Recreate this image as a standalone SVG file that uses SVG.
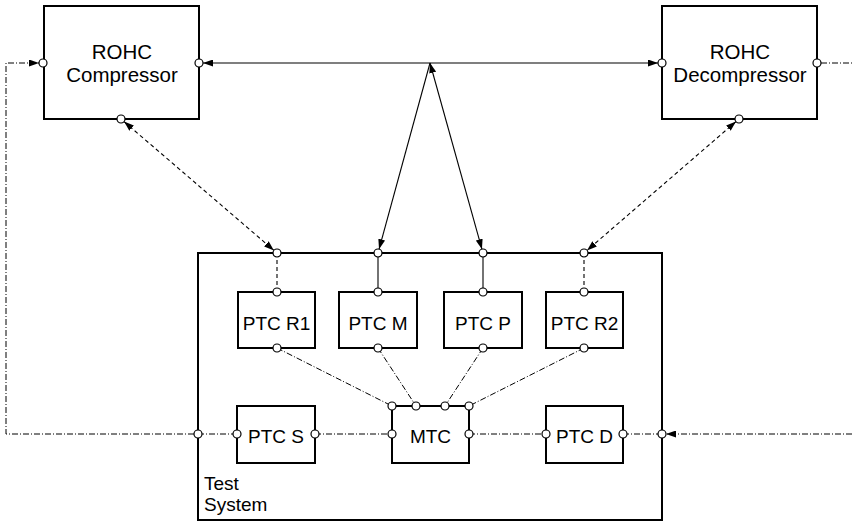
<svg xmlns="http://www.w3.org/2000/svg" width="852" height="523" viewBox="0 0 852 523">
<style>
.box{fill:none;stroke:#000;stroke-width:2}
.port{fill:#fff;stroke:#000;stroke-width:1.2}
.ln{fill:none;stroke:#000;stroke-width:1.1}
.dash{fill:none;stroke:#000;stroke-width:1.1;stroke-dasharray:4 3}
.dd{fill:none;stroke:#000;stroke-width:1;stroke-dasharray:6 2 1 2}
text{font-family:"Liberation Sans",Arial,sans-serif;font-size:19px;fill:#000}
.big{font-size:20.5px}
.c{text-anchor:middle}
</style>
<defs>
<marker id="arr" viewBox="0 0 10 7" refX="10" refY="3.5" markerWidth="10" markerHeight="7" markerUnits="userSpaceOnUse" orient="auto-start-reverse">
<path d="M0,0 L10,3.5 L0,7 z" fill="#000"/>
</marker>
</defs>
<g id="connectors">
<line class="ln" x1="203" y1="63" x2="658" y2="63" marker-start="url(#arr)" marker-end="url(#arr)"/>
<line class="ln" x1="430" y1="63" x2="379.06" y2="249.14" marker-end="url(#arr)"/>
<line class="ln" x1="430" y1="63" x2="481.93" y2="249.15" marker-start="url(#arr)" marker-end="url(#arr)"/>
<line class="dash" x1="124.03" y1="121.61" x2="273.97" y2="250.39" marker-start="url(#arr)" marker-end="url(#arr)"/>
<line class="dash" x1="735.97" y1="121.62" x2="587.03" y2="250.38" marker-start="url(#arr)" marker-end="url(#arr)"/>
<line class="dash" x1="277" y1="253" x2="277" y2="292"/>
<line class="dash" x1="584" y1="253" x2="584" y2="292"/>
<line class="ln" x1="378" y1="253" x2="378" y2="292"/>
<line class="ln" x1="483" y1="253" x2="483" y2="292"/>
<path class="dd" d="M194,434 H6 V63 H39" marker-end="url(#arr)"/>
<line class="dd" x1="852" y1="434" x2="666" y2="434" marker-end="url(#arr)"/>
<line class="dd" x1="821" y1="63" x2="852" y2="63"/>
<line class="dd" x1="198" y1="434" x2="237" y2="434"/>
<line class="dd" x1="315" y1="434" x2="392" y2="434"/>
<line class="dd" x1="469" y1="434" x2="546" y2="434"/>
<line class="dd" x1="623" y1="434" x2="662" y2="434"/>
<line class="dd" x1="277" y1="348" x2="392" y2="406"/>
<line class="dd" x1="378" y1="348" x2="416" y2="406"/>
<line class="dd" x1="483" y1="348" x2="445" y2="406"/>
<line class="dd" x1="584" y1="348" x2="469" y2="406"/>
</g>
<g id="compressor">
<rect class="box" x="44" y="6" width="155" height="113"/>
<text class="c big" x="122" y="59">ROHC</text>
<text class="c big" x="122" y="82">Compressor</text>
<circle class="port" cx="43" cy="63" r="4"/>
<circle class="port" cx="199" cy="63" r="4"/>
<circle class="port" cx="121" cy="119" r="4"/>
</g>
<g id="decompressor">
<rect class="box" x="662" y="6" width="155" height="113"/>
<text class="c big" x="740" y="59">ROHC</text>
<text class="c big" x="740" y="82">Decompressor</text>
<circle class="port" cx="662" cy="63" r="4"/>
<circle class="port" cx="817" cy="63" r="4"/>
<circle class="port" cx="739" cy="119" r="4"/>
</g>
<g id="test-system">
<rect class="box" x="198" y="253" width="464" height="267"/>
<text x="204" y="490">Test</text>
<text x="204" y="511">System</text>
<circle class="port" cx="277" cy="253" r="4"/>
<circle class="port" cx="378" cy="253" r="4"/>
<circle class="port" cx="483" cy="253" r="4"/>
<circle class="port" cx="584" cy="253" r="4"/>
<circle class="port" cx="198" cy="434" r="4"/>
<circle class="port" cx="662" cy="434" r="4"/>
</g>
<g id="ptc-r1">
<rect class="box" x="238" y="292" width="77" height="56"/>
<text class="c" x="276.5" y="330">PTC R1</text>
<circle class="port" cx="277" cy="292" r="4"/>
<circle class="port" cx="277" cy="348" r="4"/>
</g>
<g id="ptc-m">
<rect class="box" x="339" y="292" width="78" height="56"/>
<text class="c" x="378" y="330">PTC M</text>
<circle class="port" cx="378" cy="292" r="4"/>
<circle class="port" cx="378" cy="348" r="4"/>
</g>
<g id="ptc-p">
<rect class="box" x="444" y="292" width="78" height="56"/>
<text class="c" x="483" y="330">PTC P</text>
<circle class="port" cx="483" cy="292" r="4"/>
<circle class="port" cx="483" cy="348" r="4"/>
</g>
<g id="ptc-r2">
<rect class="box" x="546" y="292" width="77" height="56"/>
<text class="c" x="584.5" y="330">PTC R2</text>
<circle class="port" cx="584" cy="292" r="4"/>
<circle class="port" cx="584" cy="348" r="4"/>
</g>
<g id="ptc-s">
<rect class="box" x="237" y="406" width="78" height="57"/>
<text class="c" x="276" y="443">PTC S</text>
<circle class="port" cx="237" cy="434" r="4"/>
<circle class="port" cx="315" cy="434" r="4"/>
</g>
<g id="mtc">
<rect class="box" x="392" y="406" width="77" height="57"/>
<text class="c" x="430.5" y="443">MTC</text>
<circle class="port" cx="392" cy="406" r="4"/>
<circle class="port" cx="416" cy="406" r="4"/>
<circle class="port" cx="445" cy="406" r="4"/>
<circle class="port" cx="469" cy="406" r="4"/>
<circle class="port" cx="392" cy="434" r="4"/>
<circle class="port" cx="469" cy="434" r="4"/>
</g>
<g id="ptc-d">
<rect class="box" x="546" y="406" width="77" height="57"/>
<text class="c" x="584.5" y="443">PTC D</text>
<circle class="port" cx="546" cy="434" r="4"/>
<circle class="port" cx="623" cy="434" r="4"/>
</g>
</svg>
